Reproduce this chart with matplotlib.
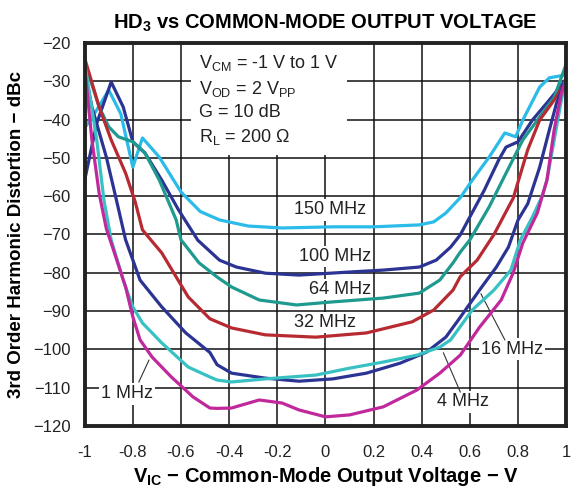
import matplotlib
matplotlib.use('Agg')
import matplotlib.pyplot as plt
from matplotlib import rcParams
rcParams['font.family'] = 'Liberation Sans'
rcParams['font.size'] = 11
rcParams['mathtext.default'] = 'regular'

# data (V, dBc)
v_150 = [-1.0, -0.95, -0.9, -0.85, -0.8, -0.76, -0.69, -0.6, -0.52, -0.44, -0.32, -0.18, 0.03, 0.2, 0.39, 0.45, 0.5, 0.56, 0.61, 0.68, 0.745, 0.79, 0.82, 0.89, 0.93, 0.975, 1.0]
d_150 = [-42.2, -37.5, -32.3, -38.5, -52.4, -44.8, -49.8, -58.9, -64.0, -66.2, -67.8, -68.3, -68.0, -68.0, -67.5, -66.7, -64.4, -60.4, -55.8, -49.8, -43.5, -44.5, -40.1, -31.5, -29.1, -28.6, -28.4]

v_100 = [-1.0, -0.95, -0.89, -0.84, -0.8, -0.75, -0.68, -0.61, -0.53, -0.44, -0.37, -0.25, -0.11, 0.1, 0.24, 0.39, 0.46, 0.52, 0.56, 0.6, 0.66, 0.72, 0.75, 0.8, 0.86, 0.93, 1.0]
d_100 = [-55.8, -41.0, -30.2, -36.7, -45.8, -48.7, -55.8, -63.6, -71.5, -76.7, -78.5, -80.1, -80.6, -79.8, -79.3, -78.5, -76.7, -73.3, -70.1, -65.4, -58.4, -50.5, -47.2, -45.8, -40.1, -34.9, -29.5]

v_64 = [-1.0, -0.94, -0.9, -0.86, -0.8, -0.75, -0.69, -0.62, -0.6, -0.525, -0.45, -0.39, -0.275, -0.12, 0.03, 0.24, 0.39, 0.475, 0.53, 0.56, 0.6, 0.68, 0.75, 0.82, 0.89, 0.95, 1.0]
d_64 = [-25.0, -36.7, -41.9, -44.5, -45.8, -48.7, -55.8, -66.2, -71.4, -77.4, -81.1, -83.7, -87.1, -88.4, -87.6, -86.6, -85.3, -81.9, -77.4, -74.6, -71.4, -62.8, -54.0, -45.3, -39.3, -34.2, -25.5]

v_32 = [-1.0, -0.94, -0.89, -0.83, -0.79, -0.76, -0.68, -0.57, -0.48, -0.39, -0.25, -0.04, 0.17, 0.36, 0.45, 0.53, 0.56, 0.63, 0.7, 0.78, 0.84, 0.89, 0.95, 1.0]
d_32 = [-24.0, -36.7, -45.3, -54.0, -61.5, -68.8, -74.8, -86.3, -92.0, -94.4, -96.2, -96.8, -95.7, -92.8, -89.7, -84.5, -81.0, -76.7, -70.0, -60.5, -47.9, -40.1, -34.9, -29.8]

v_16 = [-1.0, -0.97, -0.91, -0.87, -0.83, -0.77, -0.68, -0.58, -0.48, -0.45, -0.39, -0.25, -0.11, 0.03, 0.17, 0.31, 0.42, 0.5, 0.55, 0.64, 0.71, 0.76, 0.8, 0.84, 0.89, 0.93, 0.96, 1.0]
d_16 = [-27.0, -36.7, -49.8, -60.5, -71.4, -81.9, -88.9, -95.7, -100.8, -104.0, -106.2, -107.5, -108.3, -107.7, -106.2, -103.6, -100.7, -96.8, -92.5, -84.5, -78.5, -73.3, -66.2, -62.0, -52.4, -42.7, -35.7, -29.0]

v_4 = [-1.0, -0.95, -0.92, -0.89, -0.84, -0.8, -0.76, -0.68, -0.57, -0.48, -0.45, -0.39, -0.25, -0.04, 0.1, 0.24, 0.38, 0.475, 0.52, 0.61, 0.7, 0.77, 0.81, 0.86, 0.9, 0.92, 0.95, 0.98, 1.0]
d_4 = [-25.2, -45.3, -61.0, -71.4, -81.9, -88.9, -93.1, -98.3, -104.6, -107.2, -108.0, -108.5, -107.7, -106.7, -104.9, -103.3, -101.5, -99.4, -97.5, -89.7, -84.5, -79.3, -71.4, -65.4, -60.0, -55.8, -45.3, -34.9, -29.0]

v_1 = [-1.0, -0.97, -0.94, -0.91, -0.89, -0.83, -0.8, -0.77, -0.72, -0.64, -0.55, -0.48, -0.45, -0.39, -0.275, -0.18, -0.11, 0.0, 0.1, 0.24, 0.38, 0.475, 0.56, 0.64, 0.73, 0.78, 0.82, 0.88, 0.92, 0.95, 0.98, 1.0]
d_1 = [-26.3, -45.3, -59.2, -68.5, -72.2, -83.7, -91.5, -97.5, -102.0, -107.2, -112.4, -115.3, -115.4, -115.3, -113.2, -114.0, -115.8, -117.6, -117.1, -115.0, -110.6, -106.2, -101.5, -94.2, -87.1, -80.0, -72.2, -64.4, -55.8, -42.7, -33.1, -29.5]

series = [
    (v_150, d_150, '#2bbbe8'),
    (v_100, d_100, '#2b3492'),
    (v_64, d_64, '#1f9a8f'),
    (v_32, d_32, '#b82a32'),
    (v_16, d_16, '#2b3492'),
    (v_4, d_4, '#38c1c2'),
    (v_1, d_1, '#c0289c'),
]

fig = plt.figure(figsize=(5.76, 4.88), dpi=100)
ax = fig.add_axes([0.147, 0.127, 0.836, 0.785])

for v, d, c in series:
    ax.plot(v, d, color=c, lw=2.3, zorder=3, solid_joinstyle='round')

ax.set_xlim(-1, 1)
ax.set_ylim(-120, -20)
ax.set_xticks([-1, -0.8, -0.6, -0.4, -0.2, 0, 0.2, 0.4, 0.6, 0.8, 1])
ax.set_xticklabels(['-1', '-0.8', '-0.6', '-0.4', '-0.2', '0', '0.2', '0.4', '0.6', '0.8', '1'])
ax.set_yticks(range(-120, -19, 10))
ax.tick_params(length=0, labelsize=12, colors='#222222')
ax.tick_params(axis='y', pad=10)
ax.tick_params(axis='x', pad=14)
ax.grid(True, color='#111111', lw=1.1, zorder=1)
for s in ax.spines.values():
    s.set_linewidth(2.8)
    s.set_color('#222222')
    s.set_zorder(5)

ax.set_title('HD$_3$ vs COMMON-MODE OUTPUT VOLTAGE', fontsize=14.5, fontweight='bold', pad=10)
ax.set_xlabel('V$_{IC}$ \u2212 Common-Mode Output Voltage \u2212 V', fontsize=14.5, fontweight='bold', labelpad=3)
ax.set_ylabel('3rd Order Harmonic Distortion \u2212 dBc', fontsize=13.5, fontweight='bold', labelpad=6)

box = dict(facecolor='white', edgecolor='none', pad=1.5)
ax.text(-0.525, -22.5, 'V$_{CM}$ = -1 V to 1 V\nV$_{OD}$ = 2 V$_{PP}$\nG = 10 dB\nR$_L$ = 200 $\\Omega$',
        fontsize=13, va='top', ha='left', linespacing=1.4, color='#222222',
        bbox=dict(facecolor='white', edgecolor='none', pad=6), zorder=2)

labels = [
    ('150 MHz', 0.02, -63.6),
    ('100 MHz', 0.04, -75.8),
    ('64 MHz', 0.06, -84.4),
    ('32 MHz', 0.0, -93.0),
    ('16 MHz', 0.775, -99.9),
    ('4 MHz', 0.57, -113.7),
    ('1 MHz', -0.825, -111.6),
]
for txt, x, y in labels:
    ax.text(x, y, txt, fontsize=13, ha='center', va='center', color='#222222', bbox=box, zorder=2)

leaders = [
    ([0.646, 0.745], [-85.5, -97.5]),
    ([0.49, 0.56], [-100.9, -111.1]),
    ([-0.733, -0.775], [-102.8, -108.5]),
]
for lx, ly in leaders:
    ax.plot(lx, ly, color='#333333', lw=0.8, zorder=2)

fig.savefig('out.png', dpi=100)
